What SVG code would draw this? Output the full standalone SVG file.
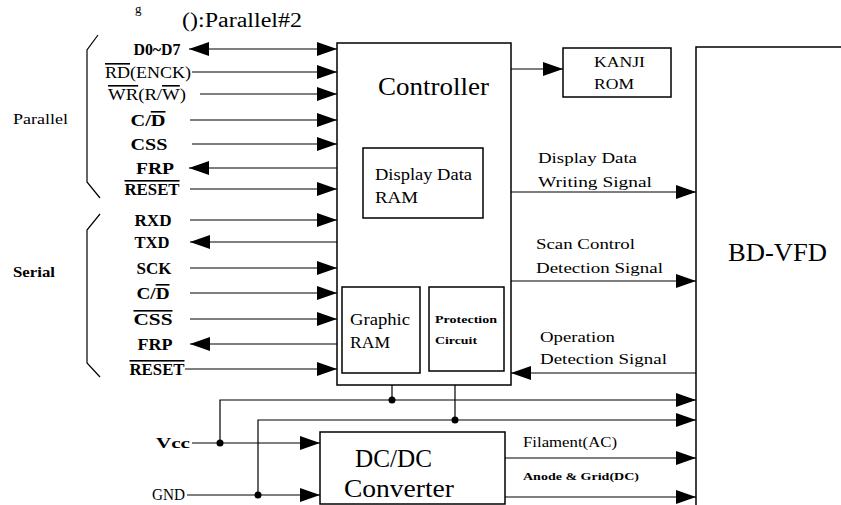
<svg xmlns="http://www.w3.org/2000/svg" width="841" height="505" viewBox="0 0 841 505">
<style>
text{font-family:"Liberation Serif","Times New Roman",serif;fill:#000}
.box{fill:none;stroke:#000;stroke-width:1.5}
.ln{fill:none;stroke:#000;stroke-width:1.2}
.lbl{font-size:16px;font-weight:bold;text-anchor:middle}
.lr{font-size:16px;text-anchor:middle}
.ov{text-decoration:overline}
.sig{font-size:15px}
</style>
<defs>
<marker id="ah" markerUnits="userSpaceOnUse" markerWidth="20" markerHeight="14" refX="20" refY="7" orient="auto-start-reverse">
<path d="M0,0 L20,7 L0,14 z" fill="#000"/>
</marker>
</defs>
<rect width="841" height="505" fill="#fff"/>
<text x="135" y="13" font-size="13">g</text>
<text x="182" y="27" font-size="20" textLength="120" lengthAdjust="spacingAndGlyphs">():Parallel#2</text>

<g id="brackets" class="ln">
<path d="M98,35 L87,50 V182 L100,198"/>
<path d="M100,214 L87,230 V363 L100,377"/>
</g>
<text x="13" y="124" font-size="14" textLength="55" lengthAdjust="spacingAndGlyphs">Parallel</text>
<text x="13" y="277" font-size="14" font-weight="bold" textLength="42" lengthAdjust="spacingAndGlyphs">Serial</text>

<g id="signals">
<text class="lbl" x="157" y="55" textLength="47" lengthAdjust="spacingAndGlyphs">D0~D7</text>
<text class="lr" x="148" y="78" textLength="86" lengthAdjust="spacingAndGlyphs"><tspan class="ov">RD</tspan>(ENCK)</text>
<text class="lr" x="147" y="100" textLength="78" lengthAdjust="spacingAndGlyphs"><tspan class="ov">WR</tspan>(R/<tspan class="ov">W</tspan>)</text>
<text class="lbl" x="148" y="126" textLength="35" lengthAdjust="spacingAndGlyphs">C/<tspan class="ov">D</tspan></text>
<text class="lbl" x="149" y="150" textLength="37" lengthAdjust="spacingAndGlyphs">CSS</text>
<text class="lbl" x="155" y="174" textLength="38" lengthAdjust="spacingAndGlyphs">FRP</text>
<text class="lbl" x="152" y="195" textLength="55" lengthAdjust="spacingAndGlyphs"><tspan class="ov">RESET</tspan></text>
<text class="lbl" x="153" y="226" textLength="37" lengthAdjust="spacingAndGlyphs">RXD</text>
<text class="lbl" x="152" y="248" textLength="35" lengthAdjust="spacingAndGlyphs">TXD</text>
<text class="lbl" x="154" y="274" textLength="35" lengthAdjust="spacingAndGlyphs">SCK</text>
<text class="lbl" x="153" y="299" textLength="33" lengthAdjust="spacingAndGlyphs">C/<tspan class="ov">D</tspan></text>
<text class="lbl" x="153" y="325" textLength="39" lengthAdjust="spacingAndGlyphs"><tspan class="ov">CSS</tspan></text>
<text class="lbl" x="155" y="350" textLength="35" lengthAdjust="spacingAndGlyphs">FRP</text>
<text class="lbl" x="157" y="375" textLength="55" lengthAdjust="spacingAndGlyphs"><tspan class="ov">RESET</tspan></text>
</g>

<g id="controller">
<rect class="box" x="337" y="43" width="174" height="342"/>
<text x="378" y="95" font-size="25" textLength="111" lengthAdjust="spacingAndGlyphs">Controller</text>
</g>
<g id="display-ram">
<rect class="box" x="363" y="148" width="120" height="70"/>
<text x="375" y="180" font-size="17" textLength="97" lengthAdjust="spacingAndGlyphs">Display Data</text>
<text x="375" y="203" font-size="17" textLength="43" lengthAdjust="spacingAndGlyphs">RAM</text>
</g>
<g id="graphic-ram">
<rect class="box" x="342" y="287" width="78" height="86"/>
<text x="350" y="325" font-size="17" textLength="60" lengthAdjust="spacingAndGlyphs">Graphic</text>
<text x="350" y="348" font-size="17" textLength="40" lengthAdjust="spacingAndGlyphs">RAM</text>
</g>
<g id="protection">
<rect class="box" x="429" y="287" width="75" height="84"/>
<text x="435" y="323" font-size="11" font-weight="bold" textLength="62" lengthAdjust="spacingAndGlyphs">Protection</text>
<text x="435" y="344" font-size="11" font-weight="bold" textLength="42" lengthAdjust="spacingAndGlyphs">Circuit</text>
</g>
<g id="kanji-rom">
<rect class="box" x="563" y="48" width="108" height="49"/>
<text x="594" y="67" font-size="15" textLength="51" lengthAdjust="spacingAndGlyphs">KANJI</text>
<text x="594" y="89" font-size="15" textLength="40" lengthAdjust="spacingAndGlyphs">ROM</text>
</g>
<g id="bd-vfd">
<path class="box" d="M696,505 V47 H841"/>
<text x="728" y="261" font-size="26" textLength="99" lengthAdjust="spacingAndGlyphs">BD-VFD</text>
</g>
<g id="dcdc">
<rect class="box" x="320" y="432" width="185" height="72"/>
<text x="355" y="467" font-size="25" textLength="77" lengthAdjust="spacingAndGlyphs">DC/DC</text>
<text x="344" y="497" font-size="25" textLength="110" lengthAdjust="spacingAndGlyphs">Converter</text>
</g>
<text x="156" y="448" font-size="15" font-weight="bold" textLength="34" lengthAdjust="spacingAndGlyphs">Vcc</text>
<text x="152" y="500" font-size="16" textLength="33" lengthAdjust="spacingAndGlyphs">GND</text>

<g id="connectors" class="ln">
<path d="M189,49 H337" marker-start="url(#ah)" marker-end="url(#ah)"/>
<path d="M192,72 H337" marker-end="url(#ah)"/>
<path d="M200,94 H337" marker-end="url(#ah)"/>
<path d="M190,120 H337" marker-end="url(#ah)"/>
<path d="M192,144 H337" marker-end="url(#ah)"/>
<path d="M337,168 H189" marker-end="url(#ah)"/>
<path d="M190,189 H337" marker-end="url(#ah)"/>
<path d="M190,220 H337" marker-end="url(#ah)"/>
<path d="M337,242 H190" marker-end="url(#ah)"/>
<path d="M190,268 H337" marker-end="url(#ah)"/>
<path d="M190,293 H337" marker-end="url(#ah)"/>
<path d="M190,319 H337" marker-end="url(#ah)"/>
<path d="M337,344 H190" marker-end="url(#ah)"/>
<path d="M185,369 H337" marker-end="url(#ah)"/>
<path d="M511,69 H563" marker-end="url(#ah)"/>
<path d="M511,192 H696" marker-end="url(#ah)"/>
<path d="M511,281 H696" marker-end="url(#ah)"/>
<path d="M696,373 H511" marker-end="url(#ah)"/>
<path d="M392,385 V400"/>
<path d="M455,385 V420"/>
<path d="M220,443 V400 H696" marker-end="url(#ah)"/>
<path d="M258,495 V420 H696" marker-end="url(#ah)"/>
<path d="M192,443 H320" marker-end="url(#ah)"/>
<path d="M187,495 H320" marker-end="url(#ah)"/>
<path d="M505,458 H696" marker-end="url(#ah)"/>
<path d="M505,497 H696" marker-end="url(#ah)"/>
</g>
<g id="junctions" fill="#000">
<circle cx="392" cy="400" r="3.5"/>
<circle cx="455" cy="420" r="3.5"/>
<circle cx="220" cy="443" r="3.5"/>
<circle cx="258" cy="495" r="3.5"/>
</g>
<g id="signal-labels" class="sig">
<text x="538" y="163" textLength="99" lengthAdjust="spacingAndGlyphs">Display Data</text>
<text x="538" y="187" textLength="114" lengthAdjust="spacingAndGlyphs">Writing Signal</text>
<text x="536" y="249" textLength="99" lengthAdjust="spacingAndGlyphs">Scan Control</text>
<text x="536" y="273" textLength="127" lengthAdjust="spacingAndGlyphs">Detection Signal</text>
<text x="540" y="342" textLength="75" lengthAdjust="spacingAndGlyphs">Operation</text>
<text x="540" y="364" textLength="127" lengthAdjust="spacingAndGlyphs">Detection Signal</text>
<text x="523" y="447" font-size="14" textLength="94" lengthAdjust="spacingAndGlyphs">Filament(AC)</text>
<text x="523" y="480" font-size="11" font-weight="bold" textLength="116" lengthAdjust="spacingAndGlyphs">Anode &amp; Grid(DC)</text>
</g>
</svg>
